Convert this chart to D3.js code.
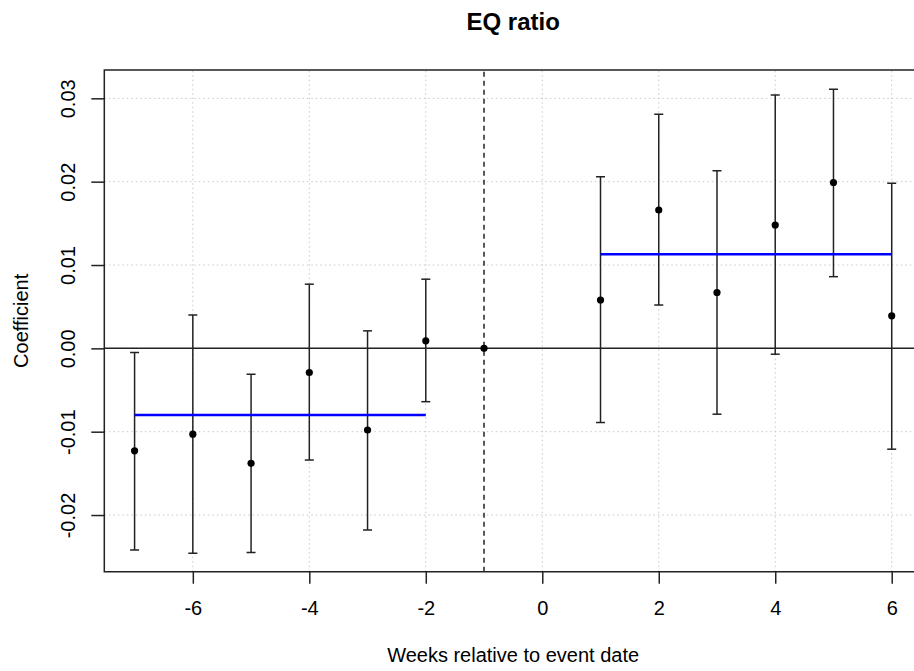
<!DOCTYPE html>
<html>
<head>
<meta charset="utf-8">
<script src="https://cdn.jsdelivr.net/npm/d3@7"></script>
<style>
	body { margin: 0; background: #fff; overflow: hidden; }
	svg { display: block; }
	svg text { font-family: "Liberation Sans", Arial, sans-serif; fill: #000; }
</style>
</head>
<body>
<div id="chart"></div>
<script>
// event-study coefficients
const weeks = [-7, -6, -5, -4, -3, -2, -1, 1, 2, 3, 4, 5, 6];
const coef  = [-0.0123, -0.0103, -0.0138, -0.0029, -0.0098, 0.0009, 0.0, 0.0058, 0.0166, 0.0067, 0.0148, 0.0199, 0.0039];
const lower = [-0.0242, -0.0246, -0.0245, -0.0134, -0.0218, -0.0064, null, -0.0089, 0.0052, -0.0079, -0.0007, 0.0086, -0.0121];
const upper = [-0.0005, 0.0040, -0.0031, 0.0077, 0.0021, 0.0083, null, 0.0206, 0.0281, 0.0213, 0.0304, 0.0311, 0.0198];

// average pre / post effect
const meanSegments = [
	{ from: -7, to: -2, value: -0.0080 },
	{ from: 1, to: 6, value: 0.0113 }
];

const xTicks = [-6, -4, -2, 0, 2, 4, 6];
const yTicks = [-0.02, -0.01, 0.00, 0.01, 0.02, 0.03];
const eventWeek = -1;

const width = 914, height = 671;
const margin = { top: 70, right: -8, bottom: 99.3, left: 104.3 };

const x = d3.scaleLinear().domain([-7.52, 6.52]).range([margin.left, width - margin.right]);
const y = d3.scaleLinear().domain([-0.0268, 0.0334]).range([height - margin.bottom, margin.top]);

const svg = d3.select("#chart").append("svg")
	.attr("width", width)
	.attr("height", height);

svg.append("clipPath").attr("id", "plot-clip")
	.append("rect")
	.attr("x", x.range()[0]).attr("y", y.range()[1])
	.attr("width", x.range()[1] - x.range()[0])
	.attr("height", y.range()[0] - y.range()[1]);

const plot = svg.append("g").attr("clip-path", "url(#plot-clip)");

// dotted grid
plot.append("g").selectAll("line")
	.data(xTicks)
	.join("line")
	.attr("x1", d => x(d)).attr("x2", d => x(d))
	.attr("y1", y.range()[0]).attr("y2", y.range()[1])
	.attr("stroke", "#c8c8c8").attr("stroke-width", 1).attr("stroke-dasharray", "1.5,3");
plot.append("g").selectAll("line")
	.data(yTicks)
	.join("line")
	.attr("x1", x.range()[0]).attr("x2", x.range()[1])
	.attr("y1", d => y(d)).attr("y2", d => y(d))
	.attr("stroke", "#c8c8c8").attr("stroke-width", 1).attr("stroke-dasharray", "1.5,3");

// zero line and event line
plot.append("line")
	.attr("x1", x.range()[0]).attr("x2", x.range()[1])
	.attr("y1", y(0)).attr("y2", y(0))
	.attr("stroke", "#222").attr("stroke-width", 1.5);
plot.append("line")
	.attr("x1", x(eventWeek)).attr("x2", x(eventWeek))
	.attr("y1", y.range()[0]).attr("y2", y.range()[1])
	.attr("stroke", "#222").attr("stroke-width", 1.5).attr("stroke-dasharray", "5,4");

// error bars
const bars = weeks.map((w, i) => ({ w, c: coef[i], lo: lower[i], hi: upper[i] }))
	.filter(d => d.lo !== null);
const eb = plot.append("g").attr("stroke", "#222").attr("stroke-width", 1.5);
eb.selectAll(".stem").data(bars).join("line")
	.attr("x1", d => x(d.w)).attr("x2", d => x(d.w))
	.attr("y1", d => y(d.lo)).attr("y2", d => y(d.hi));
eb.selectAll(".cap-hi").data(bars).join("line")
	.attr("x1", d => x(d.w) - 4.5).attr("x2", d => x(d.w) + 4.5)
	.attr("y1", d => y(d.hi)).attr("y2", d => y(d.hi));
eb.selectAll(".cap-lo").data(bars).join("line")
	.attr("x1", d => x(d.w) - 4.5).attr("x2", d => x(d.w) + 4.5)
	.attr("y1", d => y(d.lo)).attr("y2", d => y(d.lo));

// mean lines
plot.append("g").selectAll("line")
	.data(meanSegments)
	.join("line")
	.attr("x1", d => x(d.from)).attr("x2", d => x(d.to))
	.attr("y1", d => y(d.value)).attr("y2", d => y(d.value))
	.attr("stroke", "#0000ff").attr("stroke-width", 2.5);

// points
plot.append("g").selectAll("circle")
	.data(weeks.map((w, i) => ({ w, c: coef[i] })))
	.join("circle")
	.attr("cx", d => x(d.w)).attr("cy", d => y(d.c))
	.attr("r", 3.6).attr("fill", "#000");

// box (right side falls outside the window)
const [x0, x1] = x.range();
const [yb, yt] = y.range();
svg.append("path")
	.attr("d", `M${x1},${yt}H${x0}V${yb}H${x1}`)
	.attr("fill", "none").attr("stroke", "#222").attr("stroke-width", 1.5);

// axes
const hyphen = s => s.replace("\u2212", "-");
const xAxis = svg.append("g")
	.attr("transform", `translate(0,${yb})`)
	.call(d3.axisBottom(x).tickValues(xTicks).tickFormat(d => String(d))
		.tickSize(12).tickPadding(17).tickSizeOuter(0));
xAxis.select(".domain").remove();
xAxis.selectAll("line").attr("stroke", "#222").attr("stroke-width", 1.5);
xAxis.selectAll("text").attr("font-size", 20).attr("font-family", "Liberation Sans, Arial, sans-serif");

const yAxis = svg.append("g")
	.attr("transform", `translate(${x0},0)`)
	.call(d3.axisLeft(y).tickValues(yTicks).tickFormat(d => hyphen(d3.format(".2f")(d)))
		.tickSize(13).tickSizeOuter(0));
yAxis.select(".domain").remove();
yAxis.selectAll("line").attr("stroke", "#222").attr("stroke-width", 1.5);
yAxis.selectAll("text")
	.attr("font-size", 20)
	.attr("font-family", "Liberation Sans, Arial, sans-serif")
	.attr("text-anchor", "middle")
	.attr("dy", 0)
	.attr("x", 0)
	.attr("transform", "translate(-29,0) rotate(-90)");

// titles
const cx = (x0 + x1) / 2;
svg.append("text")
	.attr("x", cx).attr("y", 30)
	.attr("text-anchor", "middle")
	.attr("font-size", 24).attr("font-weight", "bold")
	.text("EQ ratio");
svg.append("text")
	.attr("x", cx).attr("y", 662)
	.attr("text-anchor", "middle")
	.attr("font-size", 20)
	.text("Weeks relative to event date");
svg.append("text")
	.attr("transform", `translate(28,${(yb + yt) / 2}) rotate(-90)`)
	.attr("text-anchor", "middle")
	.attr("font-size", 20)
	.text("Coefficient");
</script>
</body>
</html>
